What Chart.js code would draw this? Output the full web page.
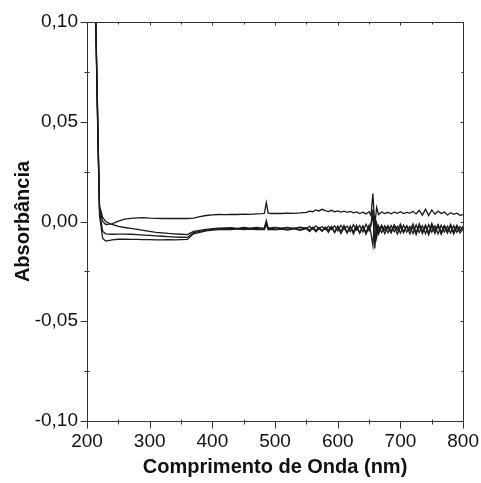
<!DOCTYPE html>
<html>
<head>
<meta charset="utf-8">
<script src="https://cdn.jsdelivr.net/npm/chart.js@4.4.0/dist/chart.umd.min.js"></script>
<style>
  html, body { margin: 0; padding: 0; background: #fff; }
  canvas { display: block; }
</style>
</head>
<body>
<canvas id="c" width="481" height="483"></canvas>
<script>
// comprimento de onda (nm)
const wavelengths = [
  210, 212, 214, 216, 218, 220, 225, 230, 240, 250,
  260, 270, 280, 290, 300, 310, 320, 330, 340, 350,
  360, 370, 380, 390, 400, 410, 420, 430, 440, 450,
  460, 470, 480, 483, 486, 489, 495, 500, 510, 520,
  530, 540, 550, 555, 560, 565, 570, 575, 580, 585,
  590, 595, 600, 605, 610, 615, 620, 625, 630, 635,
  640, 645, 650, 653, 656, 659, 662, 665, 670, 675,
  680, 685, 690, 695, 700, 705, 710, 715, 720, 725,
  730, 735, 740, 745, 750, 755, 760, 765, 770, 775,
  780, 785, 790, 795, 800
];

// absorbância, quatro espectros
const absA = [
  0.40, 0.20, 0.100, 0.066, 0.034, 0.006, 0.000, -0.0015, -0.0012, 0.0002,
  0.0012, 0.0016, 0.0018, 0.0019, 0.0017, 0.0016, 0.0015, 0.0016, 0.0015, 0.0016,
  0.0015, 0.0017, 0.0024, 0.0030, 0.0033, 0.0035, 0.0034, 0.0036, 0.0035, 0.0037,
  0.0036, 0.0038, 0.0039, 0.0041, 0.0095, 0.0042, 0.0040, 0.0041, 0.0040, 0.0042,
  0.0041, 0.0043, 0.0046, 0.0052, 0.0049, 0.0058, 0.0053, 0.0061, 0.0055, 0.0050,
  0.0056, 0.0049, 0.0053, 0.0047, 0.0052, 0.0046, 0.0051, 0.0043, 0.0048, 0.0040,
  0.0047, 0.0038, 0.0049, 0.0030, 0.0140, -0.0020, 0.0070, 0.0035, 0.0048, 0.0040,
  0.0046, 0.0039, 0.0047, 0.0041, 0.0049, 0.0040, 0.0046, 0.0042, 0.0050, 0.0038,
  0.0056, 0.0032, 0.0062, 0.0030, 0.0058, 0.0036, 0.0052, 0.0040, 0.0047, 0.0033,
  0.0044, 0.0036, 0.0042, 0.0031, 0.0034
];
const absB = [
  0.40, 0.20, 0.100, 0.064, 0.032, 0.008, 0.0020, 0.0000, -0.0015, -0.0025,
  -0.0030, -0.0035, -0.0040, -0.0045, -0.0050, -0.0054, -0.0057, -0.0060, -0.0062, -0.0064,
  -0.0066, -0.0050, -0.0045, -0.0040, -0.0036, -0.0033, -0.0032, -0.0031, -0.0034, -0.0030,
  -0.0033, -0.0030, -0.0033, -0.0031, 0.0005, -0.0032, -0.0031, -0.0029, -0.0033, -0.0030,
  -0.0034, -0.0028, -0.0035, -0.0024, -0.0038, -0.0022, -0.0036, -0.0025, -0.0040, -0.0023,
  -0.0040, -0.0022, -0.0047, -0.0019, -0.0038, -0.0023, -0.0050, -0.0016, -0.0043, -0.0020,
  -0.0052, -0.0014, -0.0046, -0.0015, 0.0060, -0.0135, -0.0010, -0.0052, -0.0018, -0.0045,
  -0.0020, -0.0049, -0.0016, -0.0043, -0.0013, -0.0051, -0.0021, -0.0045, -0.0012, -0.0056,
  -0.0011, -0.0050, -0.0017, -0.0058, -0.0010, -0.0048, -0.0015, -0.0054, -0.0020, -0.0046,
  -0.0014, -0.0052, -0.0018, -0.0045, -0.0024
];
const absC = [
  0.40, 0.20, 0.100, 0.068, 0.036, 0.005, -0.0050, -0.0062, -0.0064, -0.0063,
  -0.0063, -0.0064, -0.0066, -0.0068, -0.0070, -0.0072, -0.0074, -0.0076, -0.0078, -0.0079,
  -0.0080, -0.0056, -0.0049, -0.0044, -0.0040, -0.0037, -0.0036, -0.0035, -0.0038, -0.0034,
  -0.0037, -0.0035, -0.0038, -0.0036, -0.0005, -0.0037, -0.0035, -0.0038, -0.0034, -0.0039,
  -0.0033, -0.0040, -0.0031, -0.0044, -0.0029, -0.0045, -0.0030, -0.0046, -0.0028, -0.0043,
  -0.0025, -0.0053, -0.0023, -0.0050, -0.0020, -0.0055, -0.0026, -0.0052, -0.0019, -0.0057,
  -0.0024, -0.0054, -0.0018, -0.0060, -0.0120, 0.0030, -0.0080, -0.0021, -0.0055, -0.0022,
  -0.0056, -0.0020, -0.0051, -0.0024, -0.0058, -0.0018, -0.0053, -0.0025, -0.0060, -0.0017,
  -0.0055, -0.0021, -0.0061, -0.0016, -0.0054, -0.0022, -0.0062, -0.0019, -0.0053, -0.0024,
  -0.0057, -0.0021, -0.0054, -0.0025, -0.0042
];
const absD = [
  0.40, 0.20, 0.100, 0.070, 0.038, 0.003, -0.0085, -0.0098, -0.0092, -0.0089,
  -0.0089, -0.0090, -0.0090, -0.0091, -0.0091, -0.0092, -0.0092, -0.0091, -0.0092, -0.0091,
  -0.0090, -0.0062, -0.0054, -0.0047, -0.0043, -0.0040, -0.0039, -0.0040, -0.0037, -0.0041,
  -0.0038, -0.0041, -0.0039, -0.0040, -0.0015, -0.0041, -0.0039, -0.0042, -0.0038, -0.0043,
  -0.0037, -0.0044, -0.0036, -0.0050, -0.0033, -0.0052, -0.0035, -0.0049, -0.0032, -0.0054,
  -0.0028, -0.0056, -0.0025, -0.0060, -0.0031, -0.0058, -0.0023, -0.0063, -0.0027, -0.0059,
  -0.0022, -0.0064, -0.0028, -0.0020, 0.0040, -0.0110, -0.0015, -0.0063, -0.0025, -0.0061,
  -0.0027, -0.0058, -0.0024, -0.0063, -0.0026, -0.0057, -0.0023, -0.0062, -0.0025, -0.0066,
  -0.0022, -0.0061, -0.0024, -0.0067, -0.0023, -0.0060, -0.0021, -0.0065, -0.0026, -0.0059,
  -0.0023, -0.0063, -0.0027, -0.0057, -0.0038
];

// marcas dos eixos
const xTicks = [200, 300, 400, 500, 600, 700, 800];
const xMinor = [250, 350, 450, 550, 650, 750];
const yTicks = [-0.10, -0.05, 0, 0.05, 0.10];
const yMinor = [-0.075, -0.025, 0.025, 0.075];

const FONT = "'Liberation Sans', Arial, sans-serif";

// moldura e marcas (maiores/menores) desenhadas com as escalas do Chart.js
const framePlugin = {
  id: 'frame',
  afterDraw(chart) {
    const { ctx, chartArea: a, scales: { x, y } } = chart;
    const L = Math.round(a.left) + 0.5, R = Math.round(a.right) + 0.5;
    const T = Math.round(a.top) + 0.5, B = Math.round(a.bottom) + 0.5;
    ctx.save();
    ctx.strokeStyle = '#333';
    ctx.lineWidth = 1;
    ctx.strokeRect(L, T, R - L, B - T);
    ctx.beginPath();
    xTicks.forEach(v => {
      const p = Math.round(x.getPixelForValue(v)) + 0.5;
      ctx.moveTo(p, B); ctx.lineTo(p, B + 7);
      ctx.moveTo(p, T); ctx.lineTo(p, T + 3);
    });
    xMinor.forEach(v => {
      const p = Math.round(x.getPixelForValue(v)) + 0.5;
      ctx.moveTo(p, B - 2); ctx.lineTo(p, B + 3);
      ctx.moveTo(p, T); ctx.lineTo(p, T + 2);
    });
    yTicks.forEach(v => {
      const p = Math.round(y.getPixelForValue(v)) + 0.5;
      ctx.moveTo(L - 7, p); ctx.lineTo(L, p);
      ctx.moveTo(R, p); ctx.lineTo(R - 3, p);
    });
    yMinor.forEach(v => {
      const p = Math.round(y.getPixelForValue(v)) + 0.5;
      ctx.moveTo(L - 3, p); ctx.lineTo(L + 2, p);
      ctx.moveTo(R, p); ctx.lineTo(R - 2, p);
    });
    ctx.stroke();
    ctx.restore();
  }
};

function series(vals) {
  return {
    data: wavelengths.map((w, i) => ({ x: w, y: vals[i] })),
    borderColor: '#1a1a1a',
    borderWidth: 1.3,
    pointRadius: 0,
    tension: 0,
    fill: false
  };
}

new Chart(document.getElementById('c'), {
  type: 'line',
  data: { datasets: [series(absA), series(absB), series(absC), series(absD)] },
  options: {
    responsive: false,
    animation: false,
    devicePixelRatio: 1,
    layout: { padding: { left: 0, top: 22, right: 16, bottom: 0 } },
    plugins: { legend: { display: false }, tooltip: { enabled: false } },
    scales: {
      x: {
        type: 'linear', min: 200, max: 800,
        afterBuildTicks: s => { s.ticks = xTicks.map(v => ({ value: v })); },
        afterFit: s => { s.height = 62; },
        grid: { display: false, drawTicks: true, tickLength: 7 },
        border: { display: false },
        ticks: { color: '#111', padding: 2, maxRotation: 0, font: { family: FONT, size: 19 },
                 callback: v => String(v) },
        title: { display: true, text: 'Comprimento de Onda (nm)', color: '#111',
                 padding: { top: 0, bottom: 4 }, font: { family: FONT, size: 20, weight: 'bold' } }
      },
      y: {
        type: 'linear', min: -0.10, max: 0.10,
        afterBuildTicks: s => { s.ticks = yTicks.map(v => ({ value: v })); },
        afterFit: s => { s.width = 87; },
        grid: { display: false, drawTicks: true, tickLength: 7 },
        border: { display: false },
        ticks: { color: '#111', padding: 2, font: { family: FONT, size: 19 },
                 callback: v => (Math.abs(v) < 1e-9 ? 0 : v).toFixed(2).replace('.', ',') },
        title: { display: true, text: 'Absorbância', color: '#111',
                 padding: { top: 11, bottom: 0 }, font: { family: FONT, size: 20, weight: 'bold' } }
      }
    }
  },
  plugins: [framePlugin]
});
</script>
</body>
</html>
